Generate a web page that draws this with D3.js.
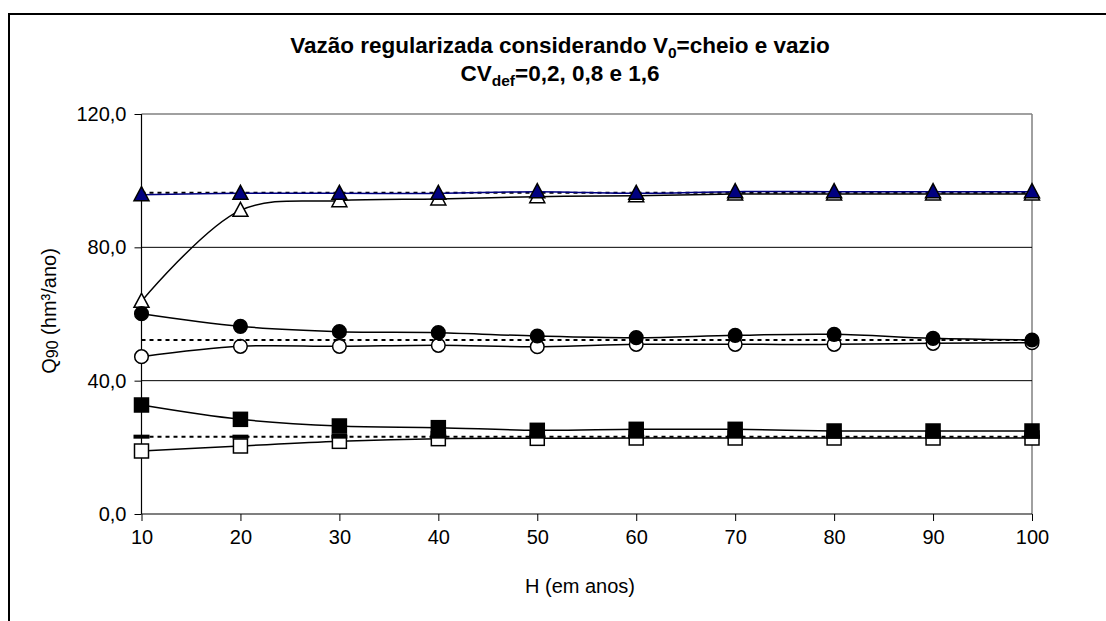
<!DOCTYPE html>
<html><head><meta charset="utf-8">
<script src="https://cdn.jsdelivr.net/npm/d3@7"></script>
<style>
html,body{margin:0;padding:0;background:#fff;}
svg{display:block;font-family:"Liberation Sans",Arial,sans-serif;}
</style></head>
<body>
<svg id="chart" width="1106" height="621"></svg>
<script>
// ---- data ----
const H = [10, 20, 30, 40, 50, 60, 70, 80, 90, 100];
const yTicks = [0, 40, 80, 120];
const cv02_cheio = [95.8, 96.2, 96.2, 96.2, 96.7, 96.2, 96.7, 96.7, 96.7, 96.7];
const cv02_vazio = [63.8, 91.1, 94.0, 94.5, 95.2, 95.5, 96.0, 96.0, 96.0, 96.0];
const cv02_ref   = [96.4, 96.4, 96.4, 96.4, 96.4, 96.4, 96.4, 96.4, 96.4, 96.4];
const cv08_cheio = [60.1, 56.3, 54.7, 54.4, 53.4, 52.9, 53.6, 53.9, 52.7, 52.2];
const cv08_vazio = [47.2, 50.3, 50.3, 50.6, 50.2, 50.9, 50.9, 50.9, 51.2, 51.4];
const cv08_ref   = [52.2, 52.2, 52.2, 52.2, 52.2, 52.2, 52.2, 52.2, 52.2, 52.2];
const cv16_cheio = [32.7, 28.4, 26.4, 25.9, 25.1, 25.4, 25.4, 24.9, 24.9, 24.9];
const cv16_vazio = [18.9, 20.4, 21.8, 22.6, 22.7, 22.8, 22.8, 22.8, 22.8, 22.8];
const cv16_ref   = [23.2, 23.2, 23.2, 23.2, 23.2, 23.2, 23.2, 23.2, 23.2, 23.2];

const svg = d3.select("#chart");
const L = 141.5, R = 1032, T = 114, B = 514;
const FS = 20;
const x = d3.scaleLinear().domain([10, 100]).range([L, R]);
const y = d3.scaleLinear().domain([0, 120]).range([B, T]);

// outer frame
svg.append("rect").attr("x", 9).attr("y", 14).attr("width", 1120).attr("height", 640)
  .attr("fill", "none").attr("stroke", "#000").attr("stroke-width", 2);

// plot border (gray top/right)
svg.append("line").attr("x1", L).attr("x2", R).attr("y1", T).attr("y2", T).attr("stroke", "#808080").attr("stroke-width", 1.5);
svg.append("line").attr("x1", R).attr("x2", R).attr("y1", T).attr("y2", B).attr("stroke", "#808080").attr("stroke-width", 1.5);

// gridlines
svg.append("g").selectAll("line").data(yTicks.filter(d => d > 0 && d < 120)).join("line")
  .attr("x1", L).attr("x2", R).attr("y1", d => y(d)).attr("y2", d => y(d))
  .attr("stroke", "#000").attr("stroke-width", 1);

// axes
const yAxis = d3.axisLeft(y).tickValues(yTicks).tickSize(7).tickPadding(8)
  .tickFormat(d => d3.format(".1f")(d).replace(".", ","));
const gy = svg.append("g").attr("transform", `translate(${L},0)`).call(yAxis);
gy.select(".domain").remove();
gy.selectAll(".tick line").attr("stroke", "#000");
gy.selectAll("text").attr("font-size", FS).attr("fill", "#000").attr("font-family", "Liberation Sans, Arial, sans-serif");
svg.append("line").attr("x1", L).attr("x2", L).attr("y1", T).attr("y2", B).attr("stroke", "#000").attr("stroke-width", 1.2);

const xAxis = d3.axisBottom(x).tickValues(H).tickSize(7).tickPadding(9).tickFormat(d3.format("d"));
const gx = svg.append("g").attr("transform", `translate(0,${B})`).call(xAxis);
gx.select(".domain").remove();
gx.selectAll(".tick line").attr("stroke", "#000");
gx.selectAll("text").attr("font-size", FS).attr("fill", "#000").attr("font-family", "Liberation Sans, Arial, sans-serif");
svg.append("line").attr("x1", L).attr("x2", R).attr("y1", B).attr("y2", B).attr("stroke", "#000").attr("stroke-width", 1.2);

// titles
const t1 = svg.append("text").attr("x", 560).attr("y", 53).attr("text-anchor", "middle")
  .attr("font-size", 22.5).attr("font-weight", "bold");
t1.append("tspan").text("Vazão regularizada considerando V");
t1.append("tspan").attr("font-size", 15.5).attr("dy", 5).text("0");
t1.append("tspan").attr("dy", -5).text("=cheio e vazio");
const t2 = svg.append("text").attr("x", 560).attr("y", 81).attr("text-anchor", "middle")
  .attr("font-size", 22.5).attr("font-weight", "bold");
t2.append("tspan").text("CV");
t2.append("tspan").attr("font-size", 15.5).attr("dy", 5).text("def");
t2.append("tspan").attr("dy", -5).text("=0,2, 0,8 e 1,6");

svg.append("text").attr("x", 580).attr("y", 593).attr("text-anchor", "middle")
  .attr("font-size", FS).text("H (em anos)");
const yl = svg.append("text").attr("transform", "translate(56,311) rotate(-90)").attr("text-anchor", "middle")
  .attr("font-size", FS);
yl.append("tspan").text("Q");
yl.append("tspan").attr("font-size", 16).attr("dy", 2).text("90");
yl.append("tspan").attr("dy", -2).text(" (hm³/ano)");

// series helpers
const smooth = d3.line().x((d, i) => x(H[i])).y(d => y(d)).curve(d3.curveCatmullRom.alpha(0.5));
const straight = d3.line().x((d, i) => x(H[i])).y(d => y(d));

function drawLine(vals, color, width, dash, gen) {
  svg.append("path").datum(vals).attr("d", gen || smooth).attr("fill", "none")
    .attr("stroke", color).attr("stroke-width", width).attr("stroke-dasharray", dash || null);
}
function drawMarkers(vals, shape, fill) {
  const g = svg.append("g");
  vals.forEach((v, i) => {
    const cx = x(H[i]), cy = y(v);
    if (shape === "circle") {
      g.append("circle").attr("cx", cx).attr("cy", cy).attr("r", 6.8)
        .attr("fill", fill).attr("stroke", "#000").attr("stroke-width", 1.5);
    } else if (shape === "square") {
      g.append("rect").attr("x", cx - 7).attr("y", cy - 7).attr("width", 14).attr("height", 14)
        .attr("fill", fill).attr("stroke", "#000").attr("stroke-width", 1.5);
    } else if (shape === "triangle") {
      g.append("path").attr("d", `M${cx},${cy - 8}L${cx + 7.5},${cy + 6}L${cx - 7.5},${cy + 6}Z`)
        .attr("fill", fill).attr("stroke", "#000").attr("stroke-width", 1.5);
    } else if (shape === "dash") {
      g.append("rect").attr("x", cx - 8).attr("y", cy - 2).attr("width", 16).attr("height", 4)
        .attr("fill", "#000");
    }
  });
}

// open (vazio) series
drawLine(cv16_vazio, "#000", 1.5);
drawLine(cv08_vazio, "#000", 1.5);
drawLine(cv02_vazio, "#000", 1.5);
drawMarkers(cv16_vazio, "square", "#fff");
drawMarkers(cv08_vazio, "circle", "#fff");
drawMarkers(cv02_vazio, "triangle", "#fff");

// reference dashed series
drawLine(cv16_ref, "#000", 2, "4,4", straight);
drawLine(cv08_ref, "#000", 2, "4,4", straight);
drawLine(cv02_ref, "#000", 2, "4,4", straight);
drawMarkers(cv16_ref, "dash");

// filled (cheio) series
drawLine(cv16_cheio, "#000", 1.5);
drawLine(cv08_cheio, "#000", 1.5);
drawLine(cv02_cheio, "#000080", 1.5);
drawMarkers(cv16_cheio, "square", "#000");
drawMarkers(cv08_cheio, "circle", "#000");
drawMarkers(cv02_cheio, "triangle", "#000080");
</script>
</body></html>
